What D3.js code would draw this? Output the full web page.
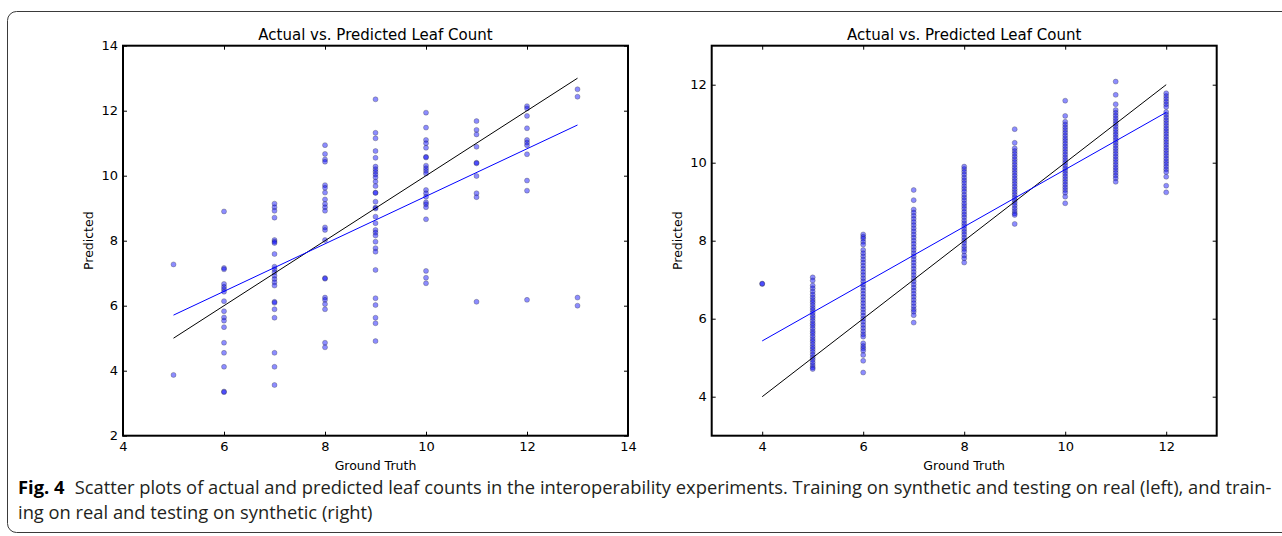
<!DOCTYPE html>
<html>
<head>
<meta charset="utf-8">
<script src="https://cdn.jsdelivr.net/npm/d3@7"></script>
<style>
    body { margin: 0; background: #fff; }
    svg text { font-family: "DejaVu Sans", sans-serif; fill: #000; }
    .caption text { font-family: "Open Sans", "Liberation Sans", sans-serif; fill: #231f20; }
</style>
</head>
<body>
<div id="chart"></div>
<script>
// ---- data: left panel (synthetic -> real) ----
const leftTruth = [5, 6, 7, 8, 9, 10, 11, 12, 13];
const leftPredicted = [
    [7.27, 3.87],
    [8.90, 7.16, 7.12, 6.67, 6.58, 6.51, 6.43, 6.14, 5.83, 5.64, 5.54, 5.34, 4.86, 4.55, 4.12, 3.36, 3.34],
    [9.14, 9.03, 8.92, 8.71, 8.02, 7.97, 7.93, 7.59, 7.20, 7.12, 7.03, 6.92, 6.82, 6.72, 6.62, 6.12, 6.09, 5.89, 5.63, 4.55, 4.12, 3.56],
    [10.94, 10.67, 10.50, 10.43, 9.71, 9.63, 9.48, 9.27, 9.13, 9.03, 8.92, 8.41, 8.33, 8.02, 6.85, 6.83, 6.25, 6.18, 6.05, 5.89, 4.86, 4.72],
    [12.35, 11.32, 11.15, 10.76, 10.55, 10.28, 10.20, 10.12, 10.04, 9.95, 9.82, 9.68, 9.48, 9.47, 9.20, 9.02, 8.99, 8.74, 8.54, 8.33, 8.25, 8.16, 7.97, 7.77, 7.66, 7.10, 6.23, 6.02, 5.63, 5.46, 4.91],
    [11.94, 11.48, 11.10, 11.00, 10.86, 10.58, 10.56, 10.31, 10.23, 10.15, 10.07, 9.56, 9.46, 9.35, 9.18, 9.12, 9.03, 8.66, 7.07, 6.86, 6.69],
    [11.68, 11.41, 11.27, 10.89, 10.40, 10.38, 9.99, 9.46, 9.34, 6.12],
    [12.14, 12.07, 11.84, 11.46, 11.10, 11.02, 10.94, 10.66, 9.85, 9.54, 6.18],
    [12.66, 12.43, 6.25, 6.00]
];
const leftFit = [5.71, 11.56];
const leftXTicks = [4, 6, 8, 10, 12, 14];
const leftYTicks = [2, 4, 6, 8, 10, 12, 14];

// ---- data: right panel (real -> synthetic) ----
const rightTruth = [4, 5, 6, 7, 8, 9, 10, 11, 12];
const rightPredicted = [
    [6.89, 6.90],
    [7.06, 6.98, 6.85, 6.78, 6.70, 6.62, 6.55, 6.48, 6.42, 6.35, 6.28, 6.22, 6.15, 6.08, 6.02, 5.95, 5.88, 5.82, 5.75, 5.68, 5.62, 5.55, 5.48, 5.42, 5.35, 5.28, 5.22, 5.15, 5.08, 5.01, 4.95, 4.88, 4.81, 4.75, 4.71],
    [8.16, 8.10, 8.05, 7.97, 7.90, 7.76, 7.68, 7.60, 7.52, 7.44, 7.36, 7.28, 7.20, 7.12, 7.04, 6.96, 6.88, 6.80, 6.72, 6.64, 6.56, 6.48, 6.40, 6.32, 6.24, 6.16, 6.08, 6.00, 5.92, 5.84, 5.76, 5.68, 5.60, 5.54, 5.37, 5.30, 5.24, 5.18, 5.07, 4.92, 4.62],
    [9.30, 9.04, 8.80, 8.72, 8.64, 8.56, 8.48, 8.40, 8.32, 8.24, 8.16, 8.08, 8.00, 7.92, 7.84, 7.76, 7.68, 7.60, 7.52, 7.44, 7.36, 7.28, 7.20, 7.12, 7.04, 6.96, 6.88, 6.80, 6.72, 6.64, 6.56, 6.48, 6.40, 6.32, 6.24, 6.18, 6.09, 5.90],
    [9.90, 9.84, 9.77, 9.70, 9.62, 9.55, 9.48, 9.40, 9.33, 9.26, 9.18, 9.11, 9.04, 8.96, 8.89, 8.82, 8.74, 8.67, 8.60, 8.52, 8.45, 8.38, 8.30, 8.23, 8.16, 8.08, 8.01, 7.94, 7.86, 7.79, 7.72, 7.62, 7.55, 7.44],
    [10.86, 10.51, 10.37, 10.30, 10.23, 10.16, 10.09, 10.02, 9.95, 9.88, 9.81, 9.74, 9.67, 9.60, 9.53, 9.46, 9.39, 9.32, 9.25, 9.18, 9.11, 9.04, 8.97, 8.90, 8.83, 8.76, 8.70, 8.66, 8.43],
    [11.59, 11.20, 11.05, 10.98, 10.91, 10.84, 10.77, 10.70, 10.63, 10.56, 10.49, 10.42, 10.35, 10.28, 10.21, 10.14, 10.07, 10.00, 9.93, 9.86, 9.79, 9.72, 9.65, 9.58, 9.51, 9.44, 9.37, 9.30, 9.23, 9.13, 8.96],
    [12.08, 11.74, 11.50, 11.35, 11.28, 11.21, 11.14, 11.07, 11.00, 10.93, 10.86, 10.79, 10.72, 10.65, 10.58, 10.51, 10.44, 10.37, 10.30, 10.23, 10.16, 10.09, 10.02, 9.95, 9.88, 9.81, 9.74, 9.67, 9.60, 9.51],
    [11.78, 11.71, 11.64, 11.57, 11.50, 11.43, 11.30, 11.23, 11.16, 11.09, 11.02, 10.95, 10.88, 10.81, 10.74, 10.67, 10.60, 10.53, 10.46, 10.39, 10.32, 10.25, 10.18, 10.11, 10.04, 9.97, 9.90, 9.83, 9.76, 9.64, 9.41, 9.24]
];
const rightFit = [5.43, 11.29];
const rightXTicks = [4, 6, 8, 10, 12];
const rightYTicks = [4, 6, 8, 10, 12];

const titleText = "Actual vs. Predicted Leaf Count";
const captionLines = [
    "Scatter plots of actual and predicted leaf counts in the interoperability experiments. Training on synthetic and testing on real (left), and train-",
    "ing on real and testing on synthetic (right)"
];

class ScatterVis {
    constructor(svg, opts) {
        this.svg = svg;
        this.opts = opts;
        this.initVis();
    }

    initVis() {
        let vis = this;
        let o = vis.opts;

        vis.g = vis.svg.append("g")
            .attr("transform", "translate(" + o.left + "," + o.top + ")");

        vis.x = d3.scaleLinear().domain(o.xDomain).range([0, o.width]);
        vis.y = d3.scaleLinear().domain(o.yDomain).range([o.height, 0]);

        // flatten columns into points
        vis.points = [];
        o.truth.forEach((t, i) => {
            o.predicted[i].forEach(p => vis.points.push({ truth: t, pred: p }));
        });

        vis.drawAxes();
        vis.drawMarks();
    }

    drawAxes() {
        let vis = this;
        let o = vis.opts;

        // ticks point inwards on all four sides (matplotlib classic)
        let bottom = vis.g.append("g")
            .attr("transform", "translate(0," + o.height + ")")
            .call(d3.axisBottom(vis.x).tickValues(o.xTicks).tickSize(-4).tickPadding(6));
        let left = vis.g.append("g")
            .call(d3.axisLeft(vis.y).tickValues(o.yTicks).tickSize(-4).tickPadding(5));
        let top = vis.g.append("g")
            .call(d3.axisTop(vis.x).tickValues(o.xTicks).tickSize(-4).tickFormat(""));
        let right = vis.g.append("g")
            .attr("transform", "translate(" + o.width + ",0)")
            .call(d3.axisRight(vis.y).tickValues(o.yTicks).tickSize(-4).tickFormat(""));

        [bottom, left, top, right].forEach(a => {
            a.select(".domain").remove();
            a.selectAll("text").style("font-size", "13px").style("font-family", "DejaVu Sans");
            a.selectAll(".tick line").attr("stroke", "#000").attr("stroke-width", 1);
        });

        // frame
        vis.g.append("rect")
            .attr("width", o.width)
            .attr("height", o.height)
            .attr("fill", "none")
            .attr("stroke", "#000")
            .attr("stroke-width", 2);

        vis.g.append("text")
            .attr("x", o.width / 2)
            .attr("y", -6)
            .attr("text-anchor", "middle")
            .style("font-size", "15px")
            .text(titleText);

        vis.g.append("text")
            .attr("x", o.width / 2)
            .attr("y", o.height + 34)
            .attr("text-anchor", "middle")
            .style("font-size", "12.5px")
            .text("Ground Truth");

        vis.g.append("text")
            .attr("transform", "translate(-30," + (o.height / 2) + ") rotate(-90)")
            .attr("text-anchor", "middle")
            .style("font-size", "12.5px")
            .text("Predicted");
    }

    drawMarks() {
        let vis = this;
        let o = vis.opts;

        vis.g.append("g").selectAll("circle")
            .data(vis.points)
            .enter().append("circle")
            .attr("cx", d => vis.x(d.truth))
            .attr("cy", d => vis.y(d.pred))
            .attr("r", 2.5)
            .attr("fill", "#0000ff")
            .attr("fill-opacity", 0.45)
            .attr("stroke", "#333")
            .attr("stroke-opacity", 0.5)
            .attr("stroke-width", 0.6);

        let t0 = o.truth[0], t1 = o.truth[o.truth.length - 1];
        let line = d3.line().x(d => vis.x(d[0])).y(d => vis.y(d[1]));

        // perfect prediction line
        vis.g.append("path")
            .attr("d", line([[t0, t0], [t1, t1]]))
            .attr("fill", "none")
            .attr("stroke", "#000")
            .attr("stroke-width", 1);

        // fitted line
        vis.g.append("path")
            .attr("d", line([[t0, o.fit[0]], [t1, o.fit[1]]]))
            .attr("fill", "none")
            .attr("stroke", "#0000ff")
            .attr("stroke-width", 1);
    }
}

const svg = d3.select("#chart").append("svg")
    .attr("width", 1282)
    .attr("height", 536);

// figure frame (rounded, open to the right)
svg.append("rect")
    .attr("x", 7.5)
    .attr("y", 11.5)
    .attr("width", 1300)
    .attr("height", 521)
    .attr("rx", 9)
    .attr("fill", "none")
    .attr("stroke", "#3a3a3a")
    .attr("stroke-width", 1);

new ScatterVis(svg, {
    left: 123, top: 45.7, width: 505, height: 390,
    xDomain: [4, 14], yDomain: [2, 14],
    xTicks: leftXTicks, yTicks: leftYTicks,
    truth: leftTruth, predicted: leftPredicted, fit: leftFit
});

new ScatterVis(svg, {
    left: 711.7, top: 45.7, width: 505, height: 390,
    xDomain: [3, 13], yDomain: [3, 13],
    xTicks: rightXTicks, yTicks: rightYTicks,
    truth: rightTruth, predicted: rightPredicted, fit: rightFit
});

// caption: condensed look by squeezing a regular face horizontally
let cap = svg.append("g").attr("class", "caption");
let l1 = cap.append("text")
    .attr("x", 0)
    .attr("y", 0)
    .style("font-size", "18px");
l1.append("tspan").style("font-weight", "bold").style("fill", "#000").text("Fig. 4");
l1.append("tspan").attr("dx", 10).text(captionLines[0]);

let l2 = cap.append("text")
    .attr("x", 0)
    .attr("y", 0)
    .style("font-size", "18px")
    .text(captionLines[1]);

let squeeze = 1244 / l1.node().getComputedTextLength();
l1.attr("transform", "translate(18,494) scale(" + squeeze + ",1)");
l2.attr("transform", "translate(18,519) scale(" + squeeze + ",1)");
</script>
</body>
</html>
